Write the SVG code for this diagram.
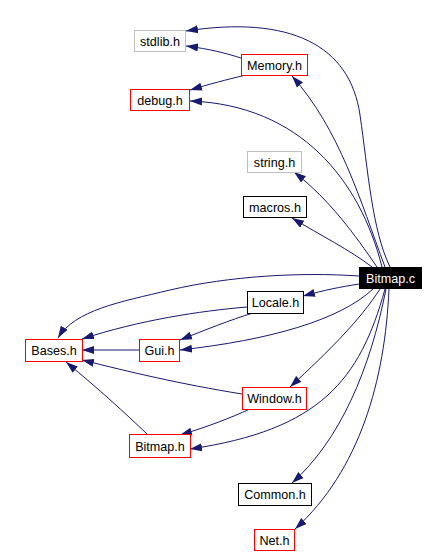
<svg xmlns="http://www.w3.org/2000/svg" width="447" height="553" viewBox="0 0 447 553">
<defs>
<marker id="arr" markerUnits="userSpaceOnUse" markerWidth="13" markerHeight="9" refX="12" refY="4.5" orient="auto">
<path d="M0,0.5 L12,4.5 L0,8.5 z" fill="#191970"/>
</marker>
<style>
.n rect{fill:#ffffff;stroke-width:1}
.red rect{stroke:#ff0000}
.gray rect{stroke:#bfbfbf}
.blk rect{stroke:#000000}
text{font-family:"Liberation Sans",Arial,sans-serif;font-size:12.6px;text-anchor:middle;fill:#000000}
#edges path{fill:none;stroke:#191970;stroke-width:1;marker-end:url(#arr)}
</style>
</defs>
<rect x="0" y="0" width="447" height="553" fill="#ffffff"/>
<g id="edges">
<path d="M390,267 C372,230 368,170 360,115 C350,45 290,15 186,31"/>
<path d="M241,58 C225,53 210,49 186,46"/>
<path d="M246,75 C225,80 210,84 190,90"/>
<path d="M385,267 C360,200 340,130 292,76"/>
<path d="M382,267 C360,180 300,105 190,101"/>
<path d="M377,267 C355,235 330,200 294,172"/>
<path d="M372,267 C350,250 320,235 292,218"/>
<path d="M359,276 C300,272 230,276 170,290 C120,302 75,310 58,338"/>
<path d="M359,284 C340,287 325,290 303,296"/>
<path d="M247,307 C200,311 140,320 82,339"/>
<path d="M253,313 C230,320 205,330 180,340"/>
<path d="M373,289 C340,320 270,340 180,350"/>
<path d="M139,350 L82,350"/>
<path d="M242,394 C180,384 130,372 82,360"/>
<path d="M380,289 C360,320 330,350 290,387"/>
<path d="M250,409 C230,418 210,426 180,435"/>
<path d="M147,434 C125,413 100,390 66,362"/>
<path d="M385,289 C360,380 320,430 190,449"/>
<path d="M386,289 C370,370 340,440 292,483"/>
<path d="M389,289 C385,380 360,470 295,529"/>
</g>
<g id="stdlib_h" class="n gray"><rect x="134.5" y="30.5" width="51" height="21"/><text x="160" y="45.5">stdlib.h</text></g>
<g id="Memory_h" class="n red"><rect x="241.5" y="54.5" width="66" height="21"/><text x="274.5" y="69.5">Memory.h</text></g>
<g id="debug_h" class="n red"><rect x="130.5" y="89.5" width="59" height="21"/><text x="160" y="104.5">debug.h</text></g>
<g id="string_h" class="n gray"><rect x="247.5" y="151.5" width="54" height="21"/><text x="274.5" y="166.5">string.h</text></g>
<g id="macros_h" class="n blk"><rect x="243.5" y="196.5" width="63" height="21"/><text x="275" y="211.5">macros.h</text></g>
<g id="Bitmap_c"><rect x="359" y="267" width="63" height="22" fill="#000000"/><text x="390.5" y="282.5" fill="#ffffff" style="fill:#ffffff">Bitmap.c</text></g>
<g id="Locale_h" class="n blk"><rect x="247.5" y="291.5" width="56" height="22"/><text x="275.5" y="307">Locale.h</text></g>
<g id="Bases_h" class="n red"><rect x="25.5" y="339.5" width="57" height="22"/><text x="54" y="355">Bases.h</text></g>
<g id="Gui_h" class="n red"><rect x="139.5" y="339.5" width="40" height="22"/><text x="159.5" y="355">Gui.h</text></g>
<g id="Window_h" class="n red"><rect x="242.5" y="387.5" width="64" height="22"/><text x="274.5" y="403">Window.h</text></g>
<g id="Bitmap_h" class="n red"><rect x="129.5" y="434.5" width="61" height="23"/><text x="160" y="450.5">Bitmap.h</text></g>
<g id="Common_h" class="n blk"><rect x="238.5" y="483.5" width="73" height="22"/><text x="275" y="499">Common.h</text></g>
<g id="Net_h" class="n red"><rect x="254.5" y="529.5" width="40" height="21"/><text x="274.5" y="544.5">Net.h</text></g>
</svg>
